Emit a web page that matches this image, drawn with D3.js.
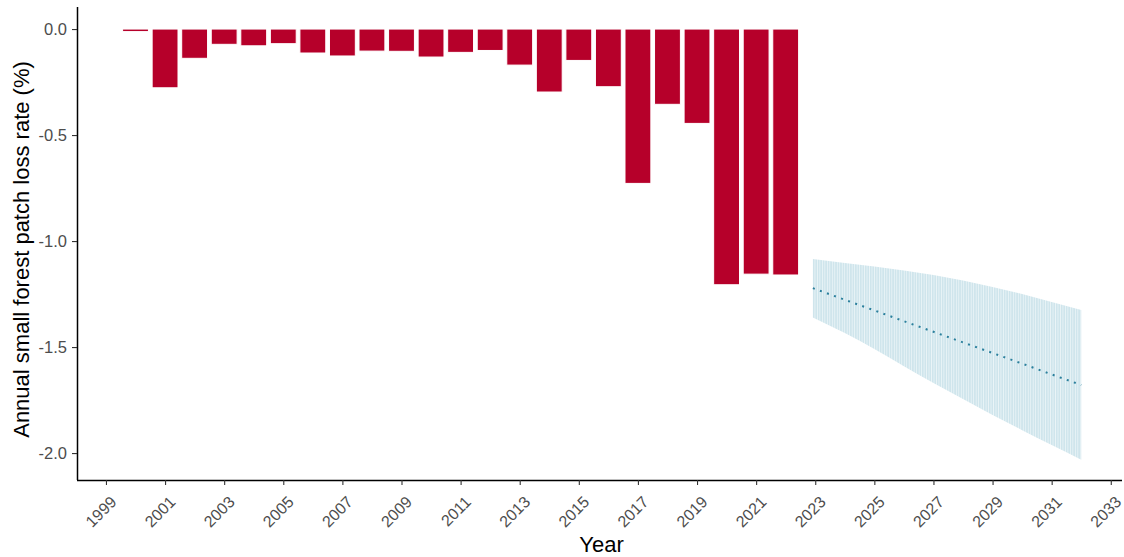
<!DOCTYPE html>
<html>
<head>
<meta charset="utf-8">
<script src="https://cdn.jsdelivr.net/npm/d3@7"></script>
<style>
  html, body { margin: 0; padding: 0; background: #ffffff; }
  svg { display: block; font-family: "Liberation Sans", Arial, sans-serif; }
</style>
</head>
<body>
<svg id="chart" width="1124" height="557"></svg>
<script>
// Observed annual loss rate of small forest patches (%)
const years = [2000, 2001, 2002, 2003, 2004, 2005, 2006, 2007, 2008, 2009, 2010, 2011,
               2012, 2013, 2014, 2015, 2016, 2017, 2018, 2019, 2020, 2021, 2022];
const lossRate = [-0.012, -0.277, -0.138, -0.072, -0.079, -0.069, -0.113, -0.127, -0.104,
                  -0.105, -0.132, -0.110, -0.101, -0.170, -0.297, -0.148, -0.272, -0.728,
                  -0.355, -0.445, -1.206, -1.156, -1.160];

// Projection with its interval
const forecastYears = [2022.92, 2024, 2025, 2026, 2027, 2028, 2029, 2030, 2031, 2032];
const forecastMean  = [-1.222, -1.277, -1.327, -1.378, -1.428, -1.478, -1.528, -1.578, -1.629, -1.679];
const forecastUpper = [-1.085, -1.104, -1.120, -1.139, -1.160, -1.186, -1.217, -1.250, -1.288, -1.325];
const forecastLower = [-1.360, -1.434, -1.509, -1.590, -1.670, -1.745, -1.821, -1.892, -1.962, -2.031];

// Axis ticks
const xTickYears = [1999, 2001, 2003, 2005, 2007, 2009, 2011, 2013, 2015, 2017,
                    2019, 2021, 2023, 2025, 2027, 2029, 2031, 2033];
const yTickValues = [0, -0.5, -1.0, -1.5, -2.0];
const yTickLabels = ["0.0", "-0.5", "-1.0", "-1.5", "-2.0"];

const svg = d3.select("#chart");
const plotLeft = 77, plotRight = 1122, plotTop = 7, plotBottom = 480;

const x = d3.scaleLinear().domain([1998.02, 2033.38]).range([plotLeft, plotRight]);
const y = d3.scaleLinear().domain([-2.127, 0.104]).range([plotBottom, plotTop]);
const yearStep = x(2000) - x(1999);

// Vertical hatching used for the interval band
const defs = svg.append("defs");
const pat = defs.append("pattern")
  .attr("id", "bandHatch")
  .attr("patternUnits", "userSpaceOnUse")
  .attr("x", x(forecastYears[0]))
  .attr("y", 0)
  .attr("width", 2.48)
  .attr("height", 10);
pat.append("rect").attr("width", 2.48).attr("height", 10).attr("fill", "#eef6f9");
pat.append("rect").attr("width", 1.75).attr("height", 10).attr("fill", "#cfe5ec");

// Bars
const barW = yearStep * 0.875;
svg.append("g").selectAll("rect")
  .data(years.map((yr, i) => ({ yr, v: lossRate[i] })))
  .join("rect")
  .attr("x", d => x(d.yr) - barW / 2)
  .attr("width", barW)
  .attr("y", d => y(Math.max(0, d.v)))
  .attr("height", d => Math.abs(y(d.v) - y(0)))
  .attr("fill", "#b6002a")
  .attr("stroke", "#ffffff")
  .attr("stroke-width", 1);

// Interval band
const fc = forecastYears.map((yr, i) => ({
  yr, m: forecastMean[i], lo: forecastLower[i], hi: forecastUpper[i]
}));
svg.append("path")
  .datum(fc)
  .attr("d", d3.area().curve(d3.curveMonotoneX)
    .x(d => x(d.yr)).y0(d => y(d.lo)).y1(d => y(d.hi)))
  .attr("fill", "url(#bandHatch)");

// Projected mean
svg.append("path")
  .datum(fc)
  .attr("d", d3.line().x(d => x(d.yr)).y(d => y(d.m)))
  .attr("fill", "none")
  .attr("stroke", "#2a7f9c")
  .attr("stroke-width", 2)
  .attr("stroke-dasharray", "2,5.5");

// Y axis
const yAxis = svg.append("g")
  .attr("transform", `translate(${plotLeft},0)`)
  .call(d3.axisLeft(y).tickValues(yTickValues)
    .tickFormat((d, i) => yTickLabels[i]).tickSize(5).tickPadding(5));
yAxis.select(".domain").attr("stroke", "#000").attr("stroke-width", 1.5)
  .attr("d", `M0.5,${plotTop}V${plotBottom}`);
yAxis.selectAll(".tick line").attr("stroke", "#333333").attr("stroke-width", 1.1);
yAxis.selectAll(".tick text").attr("fill", "#4d4d4d").style("font-size", "16.5px");

// X axis
const xAxis = svg.append("g")
  .attr("transform", `translate(0,${plotBottom})`)
  .call(d3.axisBottom(x).tickValues(xTickYears).tickFormat(d => String(d)).tickSize(5));
xAxis.select(".domain").attr("stroke", "#000").attr("stroke-width", 1.5)
  .attr("d", `M${plotLeft},0.5H${plotRight}`);
xAxis.selectAll(".tick line").attr("stroke", "#333333").attr("stroke-width", 1.1);
xAxis.selectAll(".tick text")
  .attr("fill", "#4d4d4d").style("font-size", "16px")
  .attr("text-anchor", "end")
  .attr("dy", null)
  .attr("y", 0)
  .attr("transform", "translate(11,23) rotate(-45)");

// Axis titles
svg.append("text")
  .attr("x", (plotLeft + plotRight) / 2 + 2)
  .attr("y", 552)
  .attr("text-anchor", "middle")
  .style("font-size", "22px")
  .attr("fill", "#000")
  .text("Year");

svg.append("text")
  .attr("transform", `translate(29,${(plotTop + plotBottom) / 2 + 6}) rotate(-90)`)
  .attr("text-anchor", "middle")
  .style("font-size", "22px")
  .attr("fill", "#000")
  .text("Annual small forest patch loss rate (%)");
</script>
</body>
</html>
